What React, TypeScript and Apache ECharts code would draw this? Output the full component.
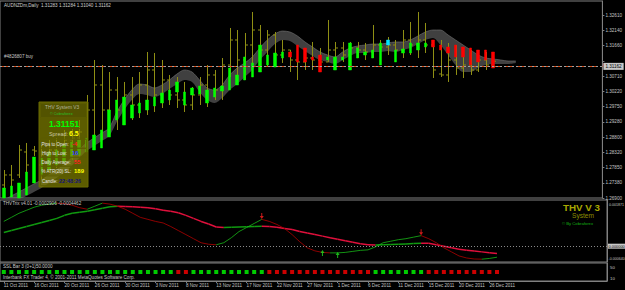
import React, { useEffect, useRef } from 'react';
import * as echarts from 'echarts';

const FONT = '"Liberation Sans", Arial, sans-serif';
const SLOT_COUNT = 80;

const TIME_LABELS = ['11 Oct 2011', '16 Oct 2011', '20 Oct 2011', '26 Oct 2011', '30 Oct 2011', '3 Nov 2011', '8 Nov 2011', '13 Nov 2011', '17 Nov 2011', '22 Nov 2011', '27 Nov 2011', '1 Dec 2011', '6 Dec 2011', '11 Dec 2011', '15 Dec 2011', '20 Dec 2011', '26 Dec 2011'];

const Y_MIN = 1.269;
const Y_MAX = 1.330366;
const Y_STEP = 0.00475;
// the tick at 1.31185 is hidden behind the bid price box in the reference
const PRICE_LABELS = ['1.26900', '1.27380', '1.27850', '1.28320', '1.28800', '1.29280', '1.29750', '1.30220', '1.30710', '', '1.31660', '1.32140', '1.32610'];

const OPEN = [1.27305, 1.27617, 1.27617, 1.28333, 1.28395, 1.27928, 1.28240, 1.28395, 1.28551, 1.28707, 1.28769, 1.28707, 1.29641, 1.30420, 1.29641, 1.30264, 1.29641, 1.30109, 1.29797, 1.30420, 1.30888, 1.30109, 1.30576, 1.30109, 1.29953, 1.29797, 1.30109, 1.30420, 1.30732, 1.30264, 1.31043, 1.31822, 1.31199, 1.31666, 1.32133, 1.31510, 1.31978, 1.31355, 1.31510, 1.31199, 1.31137, 1.31261, 1.31199, 1.31137, 1.31510, 1.31573, 1.31355, 1.31573, 1.31510, 1.31448, 1.31666, 1.31604, 1.31666, 1.31510, 1.31822, 1.31666, 1.31822, 1.31666, 1.30763, 1.30732, 1.31199, 1.30950, 1.31043, 1.30888, 1.31199, 1.31043];
const HIGH = [1.27772, 1.27928, 1.28551, 1.28614, 1.28520, 1.28551, 1.28707, 1.28769, 1.29018, 1.29081, 1.29330, 1.30109, 1.31199, 1.31043, 1.30825, 1.30669, 1.30514, 1.30669, 1.30825, 1.31448, 1.31417, 1.31199, 1.30732, 1.30669, 1.30514, 1.30358, 1.30669, 1.31043, 1.30888, 1.31261, 1.32196, 1.32133, 1.32040, 1.32694, 1.32289, 1.32133, 1.32071, 1.31822, 1.31510, 1.31355, 1.31510, 1.31760, 1.31573, 1.32445, 1.31760, 1.31760, 1.31760, 1.31760, 1.31729, 1.32289, 1.31822, 1.31915, 1.31822, 1.32133, 1.32383, 1.32694, 1.32352, 1.31822, 1.31822, 1.31729, 1.31666, 1.31604, 1.31510, 1.31417, 1.31448, 1.31355];
const LOW = [1.27087, 1.26994, 1.27523, 1.27523, 1.28209, 1.27461, 1.27710, 1.27835, 1.27928, 1.28084, 1.28146, 1.28395, 1.28395, 1.28707, 1.29018, 1.29018, 1.29174, 1.29330, 1.29392, 1.29486, 1.29579, 1.29704, 1.29797, 1.29704, 1.29579, 1.29641, 1.29797, 1.29735, 1.29953, 1.29953, 1.30669, 1.30483, 1.30576, 1.30669, 1.31199, 1.30981, 1.31137, 1.31106, 1.30825, 1.30576, 1.30888, 1.30888, 1.30981, 1.31137, 1.30888, 1.31137, 1.31137, 1.31261, 1.31199, 1.31261, 1.31199, 1.31355, 1.31199, 1.31261, 1.31355, 1.31261, 1.31417, 1.30638, 1.30669, 1.30514, 1.30732, 1.30638, 1.30732, 1.30825, 1.30888, 1.30950];
const CLOSE = [1.27617, 1.27461, 1.28395, 1.27928, 1.28364, 1.28240, 1.28395, 1.28551, 1.28707, 1.28769, 1.28956, 1.29641, 1.30420, 1.29641, 1.30264, 1.29641, 1.30109, 1.29797, 1.30420, 1.30888, 1.30109, 1.30576, 1.30109, 1.29953, 1.29797, 1.30109, 1.30420, 1.30732, 1.30264, 1.31043, 1.31822, 1.31199, 1.31666, 1.32133, 1.31510, 1.31978, 1.31355, 1.31510, 1.31199, 1.31137, 1.31261, 1.31199, 1.31137, 1.31510, 1.31573, 1.31355, 1.31573, 1.31510, 1.31448, 1.31666, 1.31604, 1.31666, 1.31510, 1.31822, 1.31666, 1.31822, 1.31666, 1.30888, 1.30732, 1.31199, 1.30950, 1.31043, 1.30888, 1.31199, 1.31043, 1.31162];

const HA_OPEN = [1.26900, 1.26931, 1.26900, 1.26994, 1.27368, 1.27617, 1.27772, 1.27928, 1.28022, 1.28146, 1.28240, 1.28333, 1.28395, 1.28458, 1.28800, 1.29330, 1.29174, 1.29392, 1.29548, 1.29641, 1.29766, 1.29860, 1.29953, 1.30202, 1.29797, 1.30109, 1.30140, 1.29860, 1.30046, 1.30233, 1.30264, 1.30420, 1.30576, 1.30669, 1.30825, 1.31043, 1.30981, 1.31261, 1.31448, 1.31666, 1.31573, 1.31292, 1.31355, 1.31199, 1.30888, 1.31199, 1.30888, 1.31261, 1.31355, 1.31261, 1.31043, 1.31666, 1.31137, 1.31417, 1.31417, 1.31510, 1.31604, 1.31822, 1.31666, 1.31604, 1.31666, 1.31604, 1.31573, 1.31510, 1.31510, 1.31448];
const HA_CLOSE = [1.27212, 1.27274, 1.27368, 1.27710, 1.28177, 1.28146, 1.28333, 1.28395, 1.28551, 1.28645, 1.28707, 1.28769, 1.28863, 1.29018, 1.29641, 1.29953, 1.30046, 1.29797, 1.29860, 1.29953, 1.30046, 1.30171, 1.30264, 1.30514, 1.30202, 1.30327, 1.30389, 1.30264, 1.30327, 1.30389, 1.30950, 1.30732, 1.31292, 1.31106, 1.31666, 1.31355, 1.31417, 1.31448, 1.31292, 1.31137, 1.31137, 1.31199, 1.30825, 1.31292, 1.31292, 1.31292, 1.31729, 1.31573, 1.31448, 1.31510, 1.31729, 1.31822, 1.31510, 1.31542, 1.31729, 1.31729, 1.31729, 1.31604, 1.31510, 1.31417, 1.31292, 1.31292, 1.31043, 1.31137, 1.31199, 1.30950];
const HA_CYAN_BARS = [51];

const BAND_UPPER = [1.26838, 1.26963, 1.27087, 1.27212, 1.27336, 1.27461, 1.27617, 1.27772, 1.27928, 1.28146, 1.28395, 1.28614, 1.28769, 1.28925, 1.29081, 1.29579, 1.29953, 1.30264, 1.30451, 1.30420, 1.30327, 1.30420, 1.30576, 1.30763, 1.30888, 1.30825, 1.30576, 1.30327, 1.30264, 1.30420, 1.30732, 1.30950, 1.31106, 1.31292, 1.31573, 1.31822, 1.32009, 1.32102, 1.32071, 1.31947, 1.31760, 1.31604, 1.31448, 1.31355, 1.31292, 1.31448, 1.31573, 1.31635, 1.31666, 1.31697, 1.31697, 1.31729, 1.31760, 1.31760, 1.31822, 1.31947, 1.32071, 1.32133, 1.32133, 1.31978, 1.31822, 1.31666, 1.31510, 1.31355, 1.31261, 1.31230, 1.31199, 1.31168, 1.31168];
const BAND_LOWER = [1.26526, 1.26651, 1.26838, 1.26963, 1.27087, 1.27212, 1.27368, 1.27523, 1.27679, 1.27897, 1.28146, 1.28364, 1.28520, 1.28676, 1.28832, 1.29268, 1.29641, 1.29953, 1.30140, 1.30109, 1.30046, 1.30140, 1.30296, 1.30451, 1.30576, 1.30514, 1.30202, 1.29953, 1.29860, 1.30015, 1.30264, 1.30451, 1.30669, 1.30888, 1.31199, 1.31448, 1.31697, 1.31822, 1.31791, 1.31635, 1.31479, 1.31324, 1.31199, 1.31137, 1.31074, 1.31199, 1.31324, 1.31417, 1.31417, 1.31448, 1.31448, 1.31479, 1.31448, 1.31510, 1.31573, 1.31697, 1.31822, 1.31884, 1.31666, 1.31355, 1.31043, 1.30825, 1.30825, 1.30950, 1.31043, 1.31074, 1.31074, 1.31074, 1.31106];

const ORDER_PRICE = 1.31221;
const BID_PRICE = 1.31162;

const TRIX_MIN = -0.00064;
const TRIX_MAX = 0.00187;
const TRIX_FAST = [0.001003, 0.001167, 0.001332, 0.001455, 0.001578, 0.001660, 0.001702, 0.001743, 0.001722, 0.001660, 0.001558, 0.001496, 0.001619, 0.001743, 0.001702, 0.001619, 0.001496, 0.001332, 0.001167, 0.001085, 0.001003, 0.000941, 0.000797, 0.000633, 0.000469, 0.000304, 0.000140, 0.000078, 0.000058, 0.000140, 0.000345, 0.000592, 0.000756, 0.000921, 0.001085, 0.001003, 0.000880, 0.000715, 0.000469, 0.000181, -0.000066, -0.000189, -0.000251, -0.000271, -0.000271, -0.000251, -0.000210, -0.000169, -0.000148, -0.000025, 0.000140, 0.000201, 0.000263, 0.000304, 0.000366, 0.000427, 0.000304, 0.000140, -0.000066, -0.000230, -0.000395, -0.000477, -0.000518, -0.000526, -0.000497, -0.000446];
const TRIX_SLOW = [0.000551, 0.000633, 0.000715, 0.000797, 0.000880, 0.000962, 0.001044, 0.001126, 0.001249, 0.001332, 0.001373, 0.001414, 0.001475, 0.001537, 0.001599, 0.001619, 0.001611, 0.001599, 0.001578, 0.001558, 0.001517, 0.001455, 0.001414, 0.001352, 0.001249, 0.001126, 0.001003, 0.000900, 0.000777, 0.000756, 0.000764, 0.000777, 0.000789, 0.000797, 0.000806, 0.000797, 0.000764, 0.000715, 0.000674, 0.000592, 0.000530, 0.000469, 0.000407, 0.000345, 0.000284, 0.000222, 0.000160, 0.000099, 0.000058, 0.000049, 0.000058, 0.000066, 0.000078, 0.000090, 0.000107, 0.000123, 0.000115, 0.000058, -0.000004, -0.000066, -0.000127, -0.000169, -0.000197, -0.000230, -0.000263, -0.000291];
const ARROWS_DOWN = [[34, 0.00122], [55, 0.000563]];
const ARROWS_UP = [[42, -0.000271], [44, -0.000353]];
const TRIX_LABELS = ['0.001871', '0.000000', '-0.000640'];

const SSL = [1, 1, 1, 1, 1, 1, 1, 1, 1, 1, 1, 1, 1, 1, 1, 1, 1, 1, 1, 1, 1, 1, 1, -1, -1, 1, 1, 1, 1, 1, 1, 1, 1, 1, 1, -1, -1, -1, -1, -1, -1, -1, -1, -1, -1, -1, -1, -1, -1, 1, 1, 1, 1, 1, 1, 1, -1, -1, -1, -1, -1, -1, -1, -1, -1, -1];
const SSL_LABELS = ['50', '10'];

const OLIVE = '#8f8f14';
const GRID_BORDER = '#808080';
const AXIS_TEXT = '#c4c4c4';

const CATS = Array.from({ length: SLOT_COUNT }, (_, i) => String(i));

const ARROW_DOWN = 'path://M4,0 L6,0 L6,5 L9,5 L5,10 L1,5 L4,5 Z';
const ARROW_UP = 'path://M5,0 L9,5 L6,5 L6,10 L4,10 L4,5 L1,5 Z';

function segmentSeries(vals: number[], width: number, up: string, down: string) {
  return {
    type: 'custom',
    xAxisIndex: 1,
    yAxisIndex: 1,
    clip: true,
    data: vals.slice(1).map((v, k) => [k + 1, vals[k], v]),
    encode: { x: 0, y: [1, 2] },
    renderItem: (_p: any, api: any) => {
      const i = api.value(0);
      const a = api.coord([i - 1, api.value(1)]);
      const b = api.coord([i, api.value(2)]);
      return {
        type: 'line',
        shape: { x1: a[0], y1: a[1], x2: b[0], y2: b[1] },
        style: { stroke: api.value(2) >= api.value(1) ? up : down, lineWidth: width },
      };
    },
  };
}

function txt(text: string, x: number, y: number, fill: string, size: number, weight: string = 'normal') {
  return {
    type: 'text',
    x,
    y,
    z: 100,
    style: { text, fill, fontSize: size, fontFamily: FONT, fontWeight: weight, verticalAlign: 'middle', align: 'left' },
  };
}

function buildOption() {
  const xAxisBase = (gridIndex: number) => ({
    type: 'category',
    gridIndex,
    data: CATS,
    boundaryGap: true,
    axisLine: { show: false },
    axisTick: { show: false },
    axisLabel: { show: false },
    splitLine: { show: false },
  });

  const haData = HA_OPEN.map((o, i) => {
    const c = HA_CLOSE[i];
    const value = [o, c, Math.min(o, c), Math.max(o, c)];
    if (HA_CYAN_BARS.includes(i)) {
      return { value, itemStyle: { color: '#00e5ff', color0: '#00e5ff', borderColor: '#00e5ff', borderColor0: '#00e5ff' } };
    }
    return value;
  });

  const rowBox = (y: number, h: number) => ({
    type: 'rect',
    z: 91,
    shape: { x: 40.5, y, width: 46, height: h },
    style: { fill: 'rgba(0,0,0,0)', stroke: '#5c5c00', lineWidth: 0.8 },
  });

  const panel = [
    { type: 'rect', z: 90, shape: { x: 39, y: 102, width: 49, height: 85 }, style: { fill: 'rgba(128,128,0,0.72)', stroke: '#6a6a00', lineWidth: 1 } },
    { type: 'rect', z: 91, shape: { x: 40.5, y: 103.5, width: 46, height: 14 }, style: { fill: 'rgba(80,80,0,0.75)', stroke: '#5c5c00', lineWidth: 0.8 } },
    rowBox(119, 9.5),
    rowBox(128.5, 9.5),
    rowBox(139.5, 8.5),
    rowBox(148.5, 8.5),
    rowBox(157.5, 8.5),
    rowBox(166.5, 8.5),
    rowBox(176, 9.5),
    txt('THV System V3', 45, 107.5, '#b4b49c', 4.8),
    txt('\u00a9 Cobraforex', 50, 114, '#28c028', 3.8),
    txt('1.31151', 49, 124, '#00ff00', 8.5, 'bold'),
    txt('Spread:', 49, 133.5, '#c8c8a0', 5.4),
    txt('6.5', 69, 133.5, '#ffff00', 7, 'bold'),
    txt('Pips to Open:', 41.5, 144, '#e6e6e6', 4.5),
    txt('-4', 72, 144, '#ff2020', 6, 'bold'),
    txt('High to Low:', 42, 153, '#e6e6e6', 4.5),
    txt('16', 72, 153, '#2846ff', 6, 'bold'),
    txt('Daily Average:', 41.5, 162, '#e6e6e6', 4.5),
    txt('55', 74, 162, '#ff2020', 6, 'bold'),
    txt('% ATR(20) SL:', 41.5, 171, '#e6e6e6', 4.5),
    txt('189', 74, 171, '#ffff00', 6, 'bold'),
    txt('Candle:', 42, 181, '#e6e6e6', 4.5),
    txt('22:48:26', 59, 181, '#141478', 5.5, 'bold'),
  ];

  return {
    animation: false,
    backgroundColor: '#000',
    grid: [
      { left: -1, right: 18, top: 1, height: 197, show: true, borderColor: GRID_BORDER, borderWidth: 1, backgroundColor: 'transparent' },
      { left: -1, right: 18, top: 200, height: 62, show: true, borderColor: GRID_BORDER, borderWidth: 1, backgroundColor: 'transparent' },
      { left: -1, right: 18, top: 263, height: 18, show: true, borderColor: GRID_BORDER, borderWidth: 1, backgroundColor: 'transparent' },
    ],
    xAxis: [
      xAxisBase(0),
      xAxisBase(1),
      {
        ...xAxisBase(2),
        axisLine: { show: true, lineStyle: { color: GRID_BORDER } },
        axisTick: {
          show: true,
          alignWithLabel: true,
          length: 2,
          interval: (i: number) => i % 4 === 0 && i / 4 < TIME_LABELS.length,
          lineStyle: { color: GRID_BORDER },
        },
        axisLabel: {
          show: true,
          interval: (i: number) => i % 4 === 0 && i / 4 < TIME_LABELS.length,
          formatter: (_v: string, i: number) => TIME_LABELS[i / 4] ?? '',
          align: 'left',
          margin: 2,
          color: AXIS_TEXT,
          fontSize: 4.6,
          fontFamily: FONT,
        },
      },
    ],
    yAxis: [
      {
        type: 'value',
        gridIndex: 0,
        position: 'right',
        min: Y_MIN,
        max: Y_MAX,
        interval: Y_STEP,
        axisLine: { show: true, lineStyle: { color: GRID_BORDER } },
        axisTick: { show: true, length: 2, lineStyle: { color: GRID_BORDER } },
        splitLine: { show: false },
        axisLabel: {
          showMaxLabel: false,
          margin: 3,
          color: AXIS_TEXT,
          fontSize: 4.6,
          fontFamily: FONT,
          formatter: (v: number) => PRICE_LABELS[Math.round((v - Y_MIN) / Y_STEP)] ?? '',
        },
      },
      {
        type: 'value',
        gridIndex: 1,
        position: 'right',
        min: TRIX_MIN,
        max: TRIX_MAX,
        axisLine: { show: true, lineStyle: { color: GRID_BORDER } },
        axisTick: { show: false },
        axisLabel: { show: false },
        splitLine: { show: false },
      },
      {
        type: 'value',
        gridIndex: 2,
        position: 'right',
        min: 0,
        max: 100,
        axisLine: { show: true, lineStyle: { color: GRID_BORDER } },
        axisTick: { show: false },
        axisLabel: { show: false },
        splitLine: { show: false },
      },
    ],
    series: [
      {
        type: 'line',
        xAxisIndex: 0,
        yAxisIndex: 0,
        stack: 'band',
        data: BAND_LOWER,
        symbol: 'none',
        smooth: 0.3,
        lineStyle: { width: 0, opacity: 0 },
        z: 1,
      },
      {
        type: 'line',
        xAxisIndex: 0,
        yAxisIndex: 0,
        stack: 'band',
        data: BAND_UPPER.map((u, i) => u - BAND_LOWER[i]),
        symbol: 'none',
        smooth: 0.3,
        lineStyle: { width: 0.6, color: '#767676' },
        areaStyle: { color: 'rgba(128,128,128,0.5)', opacity: 1 },
        z: 1,
      },
      {
        type: 'custom',
        xAxisIndex: 0,
        yAxisIndex: 0,
        z: 2,
        data: OPEN.map((o, i) => [i, o, HIGH[i], LOW[i], CLOSE[i]]),
        encode: { x: 0, y: [1, 2, 3, 4] },
        renderItem: (_p: any, api: any) => {
          const i = api.value(0);
          const o = api.coord([i, api.value(1)]);
          const h = api.coord([i, api.value(2)]);
          const l = api.coord([i, api.value(3)]);
          const c = api.coord([i, api.value(4)]);
          const cx = Math.round(h[0]) + 0.5;
          const st = { stroke: OLIVE, lineWidth: 1 };
          return {
            type: 'group',
            children: [
              { type: 'line', shape: { x1: cx, y1: h[1], x2: cx, y2: l[1] }, style: st },
              { type: 'line', shape: { x1: cx - 2.5, y1: o[1], x2: cx, y2: o[1] }, style: st },
              { type: 'line', shape: { x1: cx, y1: c[1], x2: cx + 2.5, y2: c[1] }, style: st },
            ],
          };
        },
      },
      {
        type: 'candlestick',
        xAxisIndex: 0,
        yAxisIndex: 0,
        z: 3,
        barWidth: 3,
        data: haData,
        itemStyle: { color: '#00ff00', color0: '#ff0000', borderColor: '#00ff00', borderColor0: '#ff0000', borderWidth: 0.5 },
        markLine: {
          silent: true,
          symbol: ['none', 'none'],
          data: [
            {
              yAxis: ORDER_PRICE,
              lineStyle: { color: '#d84a14', type: [4, 2], width: 1 },
              label: {
                show: true,
                position: 'end',
                distance: 1,
                formatter: '{box|}',
                rich: { box: { width: 16, height: 3, backgroundColor: '#e00000' } },
                verticalAlign: 'bottom',
              },
            },
            {
              yAxis: BID_PRICE,
              lineStyle: { color: '#a0a0a0', type: [2, 2], width: 1 },
              label: { show: true, position: 'end', distance: 1, formatter: '1.31162', color: '#000', backgroundColor: '#c8c8c8', fontSize: 4.6, fontFamily: FONT, padding: [1, 2, 1, 2] },
            },
          ],
        },
      },
      segmentSeries(TRIX_SLOW, 1.5, '#109a10', '#e0103c'),
      segmentSeries(TRIX_FAST, 0.8, '#18b818', '#b00000'),
      {
        type: 'scatter',
        xAxisIndex: 1,
        yAxisIndex: 1,
        symbol: ARROW_DOWN,
        symbolSize: [4, 6],
        itemStyle: { color: '#ff2020' },
        data: ARROWS_DOWN,
        z: 5,
        markLine: {
          silent: true,
          symbol: ['none', 'none'],
          data: [
            {
              yAxis: 0,
              lineStyle: { color: '#8a8a8a', type: [1, 2], width: 1 },
              label: { show: true, position: 'end', distance: 1, formatter: TRIX_LABELS[1], color: '#000', backgroundColor: '#c8c8c8', fontSize: 3.9, fontFamily: FONT, padding: [0.5, 0.5, 0.5, 0.5] },
            },
          ],
        },
      },
      {
        type: 'scatter',
        xAxisIndex: 1,
        yAxisIndex: 1,
        symbol: ARROW_UP,
        symbolSize: [4, 6],
        itemStyle: { color: '#20e020' },
        data: ARROWS_UP,
        z: 5,
      },
      {
        type: 'scatter',
        xAxisIndex: 2,
        yAxisIndex: 2,
        symbol: 'rect',
        symbolSize: [4, 4],
        data: SSL.map((s, i) => ({ value: [i, 50], itemStyle: { color: s > 0 ? '#00ff00' : '#ff0000' } })),
      },
    ],
    graphic: [
      txt('AUDNZDm,Daily  1.31283 1.31284 1.31040 1.31162', 4, 5, '#d0d0d0', 4.6),
      txt('#4826807 buy', 4, 56, '#c8c8c8', 4.6),
      txt('THVTrix v4.01 -0.0002906 -0.0004462', 3, 203.5, '#c8c8c8', 4.6),
      txt('SSL Bar 3 (0+1)50.0000', 3, 266.5, '#c8c8c8', 4.6),
      txt('Interbank FX Trader 4, \u00a9 2001-2011 MetaQuotes Software Corp.', 3, 277.5, '#c8c8c8', 4.6),
      txt(TRIX_LABELS[0], 609, 204.5, AXIS_TEXT, 3.6),
      txt(TRIX_LABELS[2], 608.5, 258.5, AXIS_TEXT, 3.6),
      txt(SSL_LABELS[0], 610, 267, AXIS_TEXT, 4.4),
      txt(SSL_LABELS[1], 610, 278.5, AXIS_TEXT, 4.4),
      txt('THV V 3', 563, 207, '#a8a800', 9.8, 'bold'),
      txt('System', 572, 215.5, '#8c8c00', 6.6),
      txt('\u00a9 By Cobraforex', 562, 223, '#14b414', 4.2),
      ...panel,
    ],
  };
}

export default function App() {
  const ref = useRef<HTMLDivElement>(null);
  useEffect(() => {
    if (!ref.current) return;
    const chart = echarts.init(ref.current, undefined, { renderer: 'svg' });
    chart.setOption(buildOption() as any);
    return () => chart.dispose();
  }, []);
  return <div ref={ref} style={{ position: 'fixed', left: 0, top: 0, width: 625, height: 290, background: '#000' }} />;
}
